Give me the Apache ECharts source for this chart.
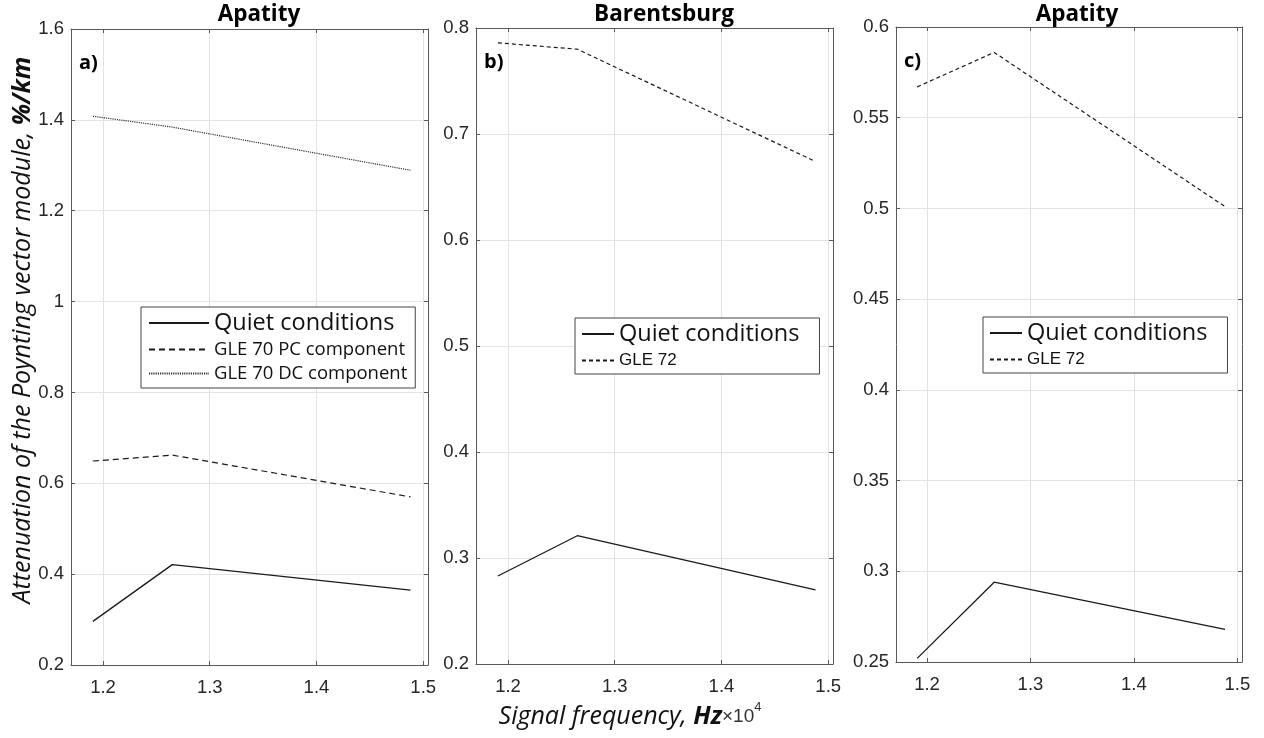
<!DOCTYPE html>
<html>
<head>
<meta charset="utf-8">
<script src="https://cdn.jsdelivr.net/npm/echarts@6/dist/echarts.min.js"></script>
<style>
html,body{margin:0;padding:0;background:#fff;}
#chart{width:1264px;height:738px;}
</style>
</head>
<body>
<div id="chart"></div>
<script>
// ---- data (frequency in Hz x 10^4) ----
const freq = [1.1905, 1.2649, 1.4881];
const xTicks = [1.2, 1.3, 1.4, 1.5];
const quietA = [0.296, 0.421, 0.365];
const gle70PC = [0.649, 0.662, 0.570];
const gle70DC = [1.408, 1.384, 1.289];
const quietB = [0.283, 0.321, 0.270];
const gle72B = [0.786, 0.780, 0.674];
const quietC = [0.252, 0.294, 0.268];
const gle72C = [0.567, 0.586, 0.501];
const panelTitles = ['Apatity', 'Barentsburg', 'Apatity'];
const panelLetters = ['a)', 'b)', 'c)'];
const yRanges = [[0.2, 1.6, 0.2], [0.2, 0.8, 0.1], [0.25, 0.6, 0.05]];

const pair = (xs, ys) => xs.map((x, i) => [x, ys[i]]);

const grids = [
  {left: 71, top: 29, width: 357, height: 636},
  {left: 476, top: 28, width: 357, height: 636},
  {left: 896, top: 27, width: 346, height: 635}
];
const axisCol = '#595959';
const labelFont = 'Liberation Sans';
const xMin = 1.17, xMax = 1.5045;

const xAxes = [], yAxes = [];
grids.forEach((g, i) => {
  xAxes.push({
    type: 'value', gridIndex: i, min: xMin, max: xMax, position: 'bottom',
    axisLine: {show: true, onZero: false, lineStyle: {color: axisCol, width: 1}},
    axisTick: {show: true, inside: true, length: 4, customValues: xTicks, lineStyle: {color: axisCol}},
    axisLabel: {customValues: xTicks, fontSize: 18.5, fontFamily: labelFont, color: '#262626', margin: 13,
      formatter: v => String(v)},
    splitLine: {show: true, lineStyle: {color: '#e3e3e3', width: 1}}
  });
});
grids.forEach((g, i) => {
  xAxes.push({
    type: 'value', gridIndex: i, min: xMin, max: xMax, position: 'top',
    axisLine: {show: true, onZero: false, lineStyle: {color: axisCol, width: 1}},
    axisTick: {show: true, inside: true, length: 4, customValues: xTicks, lineStyle: {color: axisCol}},
    axisLabel: {show: false}, splitLine: {show: false}
  });
});
grids.forEach((g, i) => {
  const r = yRanges[i];
  yAxes.push({
    type: 'value', gridIndex: i, min: r[0], max: r[1], interval: r[2], position: 'left',
    axisLine: {show: true, onZero: false, lineStyle: {color: axisCol, width: 1}},
    axisTick: {show: true, inside: true, length: 4, lineStyle: {color: axisCol}},
    axisLabel: {fontSize: 18.5, fontFamily: labelFont, color: '#262626', margin: 7},
    splitLine: {show: true, lineStyle: {color: '#e3e3e3', width: 1}}
  });
});
grids.forEach((g, i) => {
  const r = yRanges[i];
  yAxes.push({
    type: 'value', gridIndex: i, min: r[0], max: r[1], interval: r[2], position: 'right',
    axisLine: {show: true, onZero: false, lineStyle: {color: axisCol, width: 1}},
    axisTick: {show: true, inside: true, length: 4, lineStyle: {color: axisCol}},
    axisLabel: {show: false}, splitLine: {show: false}
  });
});

const solid = {color: '#1a1a1a', width: 1.3, type: 'solid'};
function lineSeries(name, gi, ys, ls) {
  return {
    name: name, type: 'line', xAxisIndex: gi, yAxisIndex: gi,
    data: pair(freq, ys), symbol: 'none', showSymbol: false,
    lineStyle: ls, itemStyle: {color: ls.color}, animation: false, silent: true
  };
}
const series = [
  lineSeries('Quiet conditions', 0, quietA, solid),
  lineSeries('GLE 70 PC component', 0, gle70PC, {color: '#1a1a1a', width: 1.2, type: [6, 4]}),
  lineSeries('GLE 70 DC component', 0, gle70DC, {color: '#333', width: 1.2, type: [1.2, 1]}),
  lineSeries('Quiet conditions', 1, quietB, solid),
  lineSeries('GLE 72', 1, gle72B, {color: '#1a1a1a', width: 1.2, type: [4, 3]}),
  lineSeries('Quiet conditions', 2, quietC, solid),
  lineSeries('GLE 72', 2, gle72C, {color: '#1a1a1a', width: 1.2, type: [4, 3]})
];

const legendBase = {
  orient: 'vertical', borderColor: '#444', borderWidth: 1, backgroundColor: '#fff',
  selectedMode: false, itemStyle: {opacity: 0},
  textStyle: {fontFamily: 'Open Sans', color: '#111'}
};
const legends = [
  Object.assign({}, legendBase, {
    left: 141, top: 307, itemWidth: 60, itemHeight: 10, itemGap: 5, padding: [4, 8, 5, 7],
    data: [
      {name: 'Quiet conditions', textStyle: {fontSize: 23.5}},
      {name: 'GLE 70 PC component', textStyle: {fontSize: 18.5}},
      {name: 'GLE 70 DC component', textStyle: {fontSize: 18.5}}
    ]
  }),
  Object.assign({}, legendBase, {
    left: 575, top: 318, itemWidth: 32, itemHeight: 10, itemGap: 6, padding: [4, 20, 5, 6],
    data: [
      {name: 'Quiet conditions', textStyle: {fontSize: 23.5}},
      {name: 'GLE 72', textStyle: {fontSize: 17, fontFamily: 'Liberation Sans'}}
    ]
  }),
  Object.assign({}, legendBase, {
    left: 983, top: 317, itemWidth: 32, itemHeight: 10, itemGap: 6, padding: [4, 20, 5, 6],
    data: [
      {name: 'Quiet conditions', textStyle: {fontSize: 23.5}},
      {name: 'GLE 72', textStyle: {fontSize: 17, fontFamily: 'Liberation Sans'}}
    ]
  })
];

const titleX = [259, 664, 1077];
const letterPos = [[79, 63], [484, 62], [904, 61]];
const graphic = [];
panelTitles.forEach((t, i) => {
  graphic.push({type: 'text', x: titleX[i], y: 15, silent: true,
    style: {text: t, align: 'center', verticalAlign: 'middle', fontFamily: 'Open Sans',
      fontWeight: 'bold', fontSize: 22.5, fill: '#000'}});
  graphic.push({type: 'text', x: letterPos[i][0], y: letterPos[i][1], silent: true,
    style: {text: panelLetters[i], align: 'left', verticalAlign: 'middle', fontFamily: 'Open Sans',
      fontWeight: 'bold', fontSize: 20, fill: '#000'}});
});
graphic.push({type: 'text', x: 23, y: 330, rotation: Math.PI / 2, silent: true,
  style: {
    text: '{i|Attenuation of the Poynting vector module, }{b|%/km}',
    align: 'center', verticalAlign: 'middle',
    rich: {
      i: {fontFamily: 'Open Sans', fontStyle: 'italic', fontSize: 25, fill: '#111'},
      b: {fontFamily: 'Open Sans', fontStyle: 'italic', fontWeight: 'bold', fontSize: 25, fill: '#111'}
    }
  }});
graphic.push({type: 'text', x: 630, y: 717, silent: true,
  style: {
    text: '{i|Signal frequency, }{b|Hz}{r|×10}{s|4}',
    align: 'center', verticalAlign: 'middle',
    rich: {
      i: {fontFamily: 'Open Sans', fontStyle: 'italic', fontSize: 25, fill: '#111'},
      b: {fontFamily: 'Open Sans', fontStyle: 'italic', fontWeight: 'bold', fontSize: 25, fill: '#111'},
      r: {fontFamily: 'Liberation Sans', fontSize: 19, fill: '#333'},
      s: {fontFamily: 'Liberation Sans', fontSize: 13, fill: '#333', verticalAlign: 'top', padding: [0, 0, 20, 0]}
    }
  }});

const chart = echarts.init(document.getElementById('chart'), null, {renderer: 'canvas'});
chart.setOption({
  backgroundColor: '#fff',
  animation: false,
  grid: grids,
  xAxis: xAxes,
  yAxis: yAxes,
  legend: legends,
  series: series,
  graphic: graphic
});
</script>
</body>
</html>
